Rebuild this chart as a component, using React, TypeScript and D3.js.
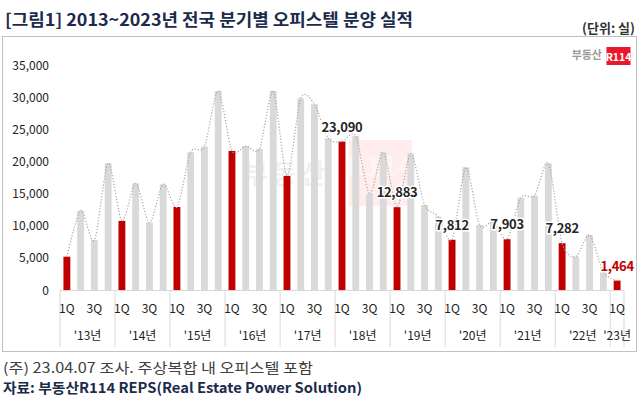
import React from "react";
import * as d3 from "d3";

const years = ["'13년", "'14년", "'15년", "'16년", "'17년", "'18년", "'19년", "'20년", "'21년", "'22년", "'23년"];
const quarterLabels = ["1Q", "", "3Q", ""];
const values = [
  5180, 12340, 7780, 19710,
  10740, 16600, 10480, 16440,
  12910, 21420, 22300, 30960,
  21630, 22400, 21940, 30960,
  17740, 29820, 28890, 23600,
  23090, 23960, 14930, 21420,
  12883, 21210, 13220, 11410,
  7812, 19090, 10110, 10630,
  7903, 14370, 14680, 19700,
  7282, 5190, 8560, 2800,
  1464,
];
const labeledIdx = [20, 24, 28, 32, 36, 40];
const yTicks = [0, 5000, 10000, 15000, 20000, 25000, 30000, 35000];

const FONT = "'Noto Sans CJK KR', 'Noto Sans', sans-serif";
const NAVY = "#1b2b4b";

export default function App() {
  const W = 640, H = 402;
  const x = d3.scaleBand<number>().domain(d3.range(values.length)).range([60, 624]).paddingInner(0.5).paddingOuter(0.25);
  const y = d3.scaleLinear().domain([0, 35000]).range([290, 65]);
  const step = x.step();
  const bw = x.bandwidth();
  const cx = (i: number) => (x(i) as number) + bw / 2;
  const line = d3.line<number>().x((_, i) => cx(i)).y((v) => y(v)).curve(d3.curveCardinal.tension(0.2));
  const fmt = d3.format(",");
  const x0 = 60;
  const dividers = d3.range(years.length).map((k) => x0 + k * 4 * step).concat([624]);

  return (
    <svg width={W} height={H} style={{ position: "absolute", left: 0, top: 0, background: "#fff" }} fontFamily={FONT}>
      <rect width={W} height={H} fill="#fff" />
      <text x={5} y={26} fontSize={17} fontWeight={700} fill={NAVY} textLength={408} lengthAdjust="spacingAndGlyphs">[그림1] 2013~2023년 전국 분기별 오피스텔 분양 실적</text>
      <text x={635} y={33} fontSize={13} fontWeight={700} fill="#333" textAnchor="end">(단위: 실)</text>
      <rect x={2.5} y={36.5} width={634} height={315} fill="none" stroke="#bfbfbf" strokeWidth={1} />

      {/* logo */}
      <text x={602} y={59} fontSize={11} fontWeight={700} fill="#9a9a9a" textAnchor="end">부동산</text>
      <rect x={606.5} y={47} width={24} height={18} fill="#e8192c" />
      <text x={618.5} y={60.5} fontSize={10.5} fontWeight={700} fill="#fff" textAnchor="middle">R114</text>

      {/* watermark */}
      <text x={243} y={184} fontSize={27} fontWeight={700} fill="#000" opacity={0.05} letterSpacing={4}>부동산</text>
      <rect x={349} y={140} width={63} height={66} fill="#ff0000" opacity={0.07} />
      <text x={380} y={176} fontSize={28} fontWeight={700} fill="#fff" opacity={0.35} textAnchor="middle">R114</text>

      {/* y ticks */}
      {yTicks.map((t) => (
        <text key={t} x={49} y={y(t) + 4.5} fontSize={12} fill="#222" textAnchor="end">{fmt(t)}</text>
      ))}

      {/* bars */}
      {values.map((v, i) => (
        <rect key={i} x={x(i)} y={y(v)} width={bw} height={y(0) - y(v)} fill={i % 4 === 0 ? "#c00000" : "#d9d9d9"} />
      ))}

      <path d={line(values) || ""} fill="none" stroke="#a6a6a6" strokeWidth={1.2} strokeDasharray="1.2,1.8" />

      {/* axis */}
      <line x1={60} x2={624} y1={290.5} y2={290.5} stroke="#d9d9d9" />
      {dividers.map((d, k) => (
        <line key={k} x1={d} x2={d} y1={290} y2={347} stroke="#d9d9d9" />
      ))}
      {values.map((_, i) =>
        quarterLabels[i % 4] ? (
          <text key={i} x={cx(i)} y={313} fontSize={12} fill="#222" textAnchor="middle">{quarterLabels[i % 4]}</text>
        ) : null
      )}
      {years.map((yr, k) => {
        const start = k * 4;
        const end = Math.min(start + 4, values.length);
        const c = x0 + ((start + end) / 2) * step;
        return (
          <text key={yr} x={c} y={339.5} fontSize={12} fill="#222" textAnchor="middle">{yr}</text>
        );
      })}

      {/* value labels */}
      {labeledIdx.map((i) => (
        <text key={i} x={cx(i)} y={y(values[i]) - 10} fontSize={13} fontWeight={700} fill={i === values.length - 1 ? "#c00000" : "#262626"} textAnchor="middle" stroke="#fff" strokeWidth={3} paintOrder="stroke" letterSpacing={-0.3}>{fmt(values[i])}</text>
      ))}

      <text x={3} y={373} fontSize={14} fill="#404040" textLength={310} lengthAdjust="spacingAndGlyphs">(주) 23.04.07 조사. 주상복합 내 오피스텔 포함</text>
      <text x={3} y={393} fontSize={14} fontWeight={700} fill={NAVY} textLength={359} lengthAdjust="spacingAndGlyphs">자료: 부동산R114 REPS(Real Estate Power Solution)</text>
    </svg>
  );
}
